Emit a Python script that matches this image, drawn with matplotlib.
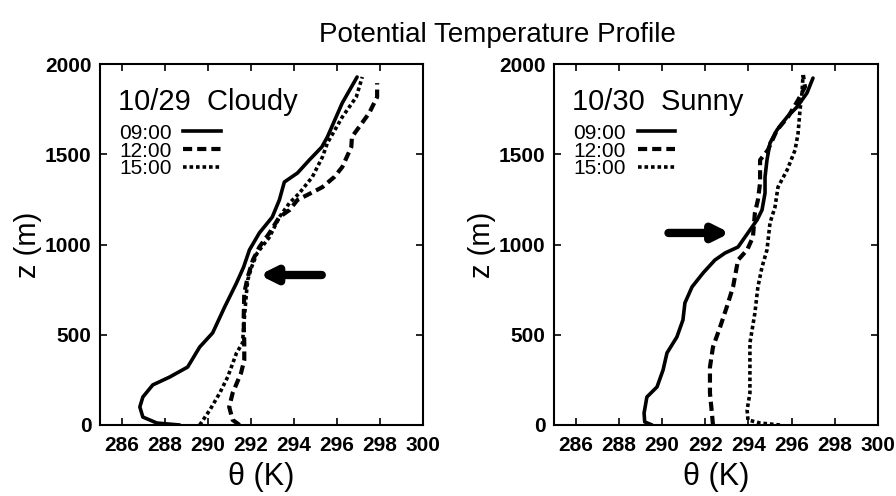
import matplotlib
matplotlib.use("Agg")
import matplotlib.pyplot as plt
from matplotlib.lines import Line2D

plt.rcParams['font.family'] = ['Liberation Sans', 'DejaVu Sans']

# ---- data: 10/29 Cloudy ----
c09_theta = [288.7, 287.64, 286.99, 286.85, 286.99, 287.45, 288.24, 289.07, 289.63, 290.23,
             290.79, 291.34, 291.67, 291.94, 292.4, 293.0, 293.33, 293.56, 294.17, 294.72,
             295.3, 295.56, 296.25, 296.94]
c09_z = [0, 11, 44, 100, 155, 222, 266, 321, 432, 510,
         654, 787, 875, 970, 1064, 1152, 1247, 1346, 1396, 1468,
         1540, 1596, 1784, 1928]
c12_theta = [291.48, 291.16, 291.0, 291.16, 291.55, 291.7, 291.7, 291.67, 291.7, 291.86,
             292.1, 292.4, 292.87, 293.33, 293.8, 294.17, 294.8, 295.33, 295.88, 296.25,
             296.67, 296.7, 297.5, 297.87, 297.87]
c12_z = [0, 28, 100, 177, 288, 360, 454, 582, 731, 820,
         914, 986, 1064, 1152, 1191, 1247, 1285, 1318, 1374, 1429,
         1540, 1596, 1728, 1817, 1894]
c15_theta = [289.63, 290.1, 290.56, 290.93, 291.34, 291.62, 291.67, 291.8, 291.86, 292.04,
             292.3, 292.87, 293.33, 293.8, 294.26, 294.86, 295.33, 295.56, 296.25, 296.9, 297.18]
c15_z = [0, 83, 177, 266, 399, 454, 543, 731, 803, 875,
         953, 1041, 1152, 1230, 1285, 1374, 1485, 1562, 1706, 1817, 1928]

# ---- data: 10/30 Sunny ----
s09_theta = [289.54, 289.2, 289.17, 289.3, 289.77, 290.05, 290.23, 290.69, 290.97, 291.06,
             291.39, 291.9, 292.45, 292.92, 293.52, 294.07, 294.4, 294.63, 294.77, 294.77,
             294.86, 295.0, 295.32, 295.79, 296.25, 296.71, 296.99]
s09_z = [0, 17, 66, 155, 211, 305, 399, 488, 582, 676,
         765, 842, 914, 953, 986, 1080, 1136, 1191, 1285, 1374,
         1468, 1562, 1634, 1706, 1762, 1839, 1922]
s12_theta = [292.36, 292.31, 292.22, 292.22, 292.36, 292.69, 293.0, 293.29, 293.52, 293.94,
             294.21, 294.3, 294.44, 294.54, 294.54, 294.9, 295.32, 295.83, 296.3, 296.62, 296.53]
s12_z = [0, 66, 177, 321, 432, 543, 654, 765, 914, 970,
         1041, 1174, 1247, 1340, 1468, 1523, 1634, 1706, 1800, 1873, 1939]
s15_theta = [295.46, 294.54, 293.98, 293.94, 294.07, 294.07, 294.07, 294.3, 294.44, 294.63,
             294.86, 295.0, 295.23, 295.37, 295.79, 296.16, 296.3, 296.39, 296.48, 296.53]
s15_z = [0, 11, 28, 83, 177, 305, 454, 620, 765, 875,
         970, 1119, 1207, 1318, 1412, 1523, 1617, 1745, 1839, 1939]

times = ["09:00", "12:00", "15:00"]
panel_titles = ["10/29  Cloudy", "10/30  Sunny"]
x_ticks = [286, 288, 290, 292, 294, 296, 298, 300]
y_ticks = [0, 500, 1000, 1500, 2000]
# arrows: (tip theta, tip z, tail theta, tail z)
arrow_left = (292.4, 831, 295.3, 831)
arrow_right = (293.15, 1064, 290.3, 1064)

styles = [dict(linestyle='-', linewidth=2.6),
          dict(linestyle=(0, (2.2, 1.2)), linewidth=3.0),
          dict(linestyle=(0, (1.0, 0.8)), linewidth=2.6)]

fig = plt.figure(figsize=(8.96, 4.96), dpi=100)
axL = fig.add_axes([100/896, 1-425/496, 323/896, 361/496])
axR = fig.add_axes([554/896, 1-425/496, 324/896, 361/496])

datasets = [
    [(c09_theta, c09_z), (c12_theta, c12_z), (c15_theta, c15_z)],
    [(s09_theta, s09_z), (s12_theta, s12_z), (s15_theta, s15_z)],
]
arrows = [arrow_left, arrow_right]

for ax, data, title, arr in zip([axL, axR], datasets, panel_titles, arrows):
    for (th, z), st in zip(data, styles):
        ax.plot(th, z, color='black', solid_capstyle='round', dash_capstyle='butt', **st)
    ax.set_xlim(285, 300)
    ax.set_ylim(0, 2000)
    ax.set_xticks(x_ticks)
    ax.set_yticks(y_ticks)
    ax.tick_params(direction='in', top=True, right=True, length=5, width=1.2,
                   labelsize=15)
    ax.tick_params(axis='x', pad=8)
    ax.tick_params(axis='y', pad=6)
    for lab in ax.get_xticklabels() + ax.get_yticklabels():
        lab.set_fontweight('bold')
    for sp in ax.spines.values():
        sp.set_linewidth(1.5)
    ax.set_xlabel("θ (K)", fontsize=22, labelpad=5)
    ax.set_ylabel("z (m)", fontsize=21, labelpad=2)
    ax.text(0.055, 0.895, title, transform=ax.transAxes, fontsize=21,
            ha='left', va='center')
    handles = [Line2D([0], [0], color='black', **st) for st in styles]
    ax.legend(handles, times, loc='upper left', bbox_to_anchor=(0.06, 0.835),
              frameon=False, markerfirst=False, fontsize=15,
              handlelength=1.8, handletextpad=0.55, labelspacing=-0.05,
              borderpad=0.0, borderaxespad=0.0)
    ax.annotate("", xy=(arr[0], arr[1]), xytext=(arr[2], arr[3]),
                arrowprops=dict(arrowstyle='-|>,head_length=0.9,head_width=0.45',
                                color='black', lw=6, shrinkA=0, shrinkB=0))

fig.suptitle("Potential Temperature Profile", x=0.555, y=0.93, fontsize=20,
             va='center')

fig.savefig("out.png", dpi=100)
